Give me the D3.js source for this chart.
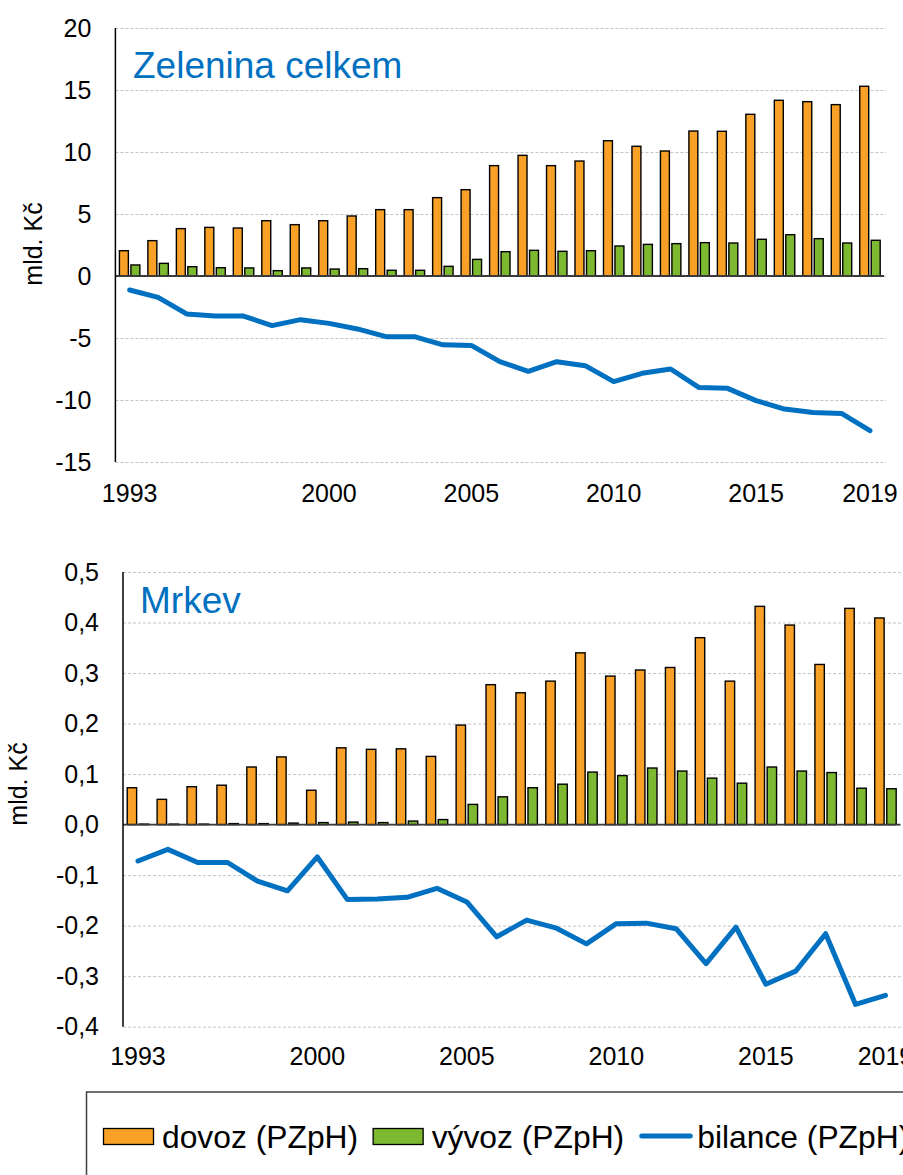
<!DOCTYPE html>
<html>
<head>
<meta charset="utf-8">
<script src="https://cdn.jsdelivr.net/npm/d3@7"></script>
<style>
    body { margin: 0; background: #fff; }
    svg { display: block; font-family: "Liberation Sans", Arial, sans-serif; }
</style>
</head>
<body>
<div id="chart"></div>
<script>

// ---- DATA (mld. Kč) ----
const zelYears = [1993, 1994, 1995, 1996, 1997, 1998, 1999, 2000, 2001, 2002, 2003, 2004, 2005, 2006,
    2007, 2008, 2009, 2010, 2011, 2012, 2013, 2014, 2015, 2016, 2017, 2018, 2019];
const zelDovoz = [2.04, 2.85, 3.82, 3.92, 3.87, 4.46, 4.14, 4.46, 4.84, 5.35, 5.35, 6.32, 6.96, 8.90,
    9.73, 8.90, 9.27, 10.91, 10.46, 10.08, 11.69, 11.67, 13.04, 14.17, 14.06, 13.82, 15.30];
const zelVyvoz = [0.89, 1.02, 0.75, 0.67, 0.65, 0.43, 0.65, 0.56, 0.59, 0.46, 0.46, 0.78, 1.34, 1.96,
    2.07, 1.99, 2.04, 2.42, 2.55, 2.61, 2.69, 2.66, 2.96, 3.33, 3.01, 2.66, 2.88];
const zelBilance = [-1.13, -1.72, -3.06, -3.23, -3.23, -4.00, -3.52, -3.82, -4.27, -4.89, -4.89, -5.55, -5.60, -6.91,
    -7.69, -6.91, -7.23, -8.52, -7.85, -7.50, -9.00, -9.06, -10.05, -10.73, -11.00, -11.08, -12.47];
const zelTicks = [-15, -10, -5, 0, 5, 10, 15, 20];

// carrot chart has 26 categories (one year less before 2000)
const mrkYears = [1993, 1995, 1996, 1997, 1998, 1999, 2000, 2001, 2002, 2003, 2004, 2005, 2006,
    2007, 2008, 2009, 2010, 2011, 2012, 2013, 2014, 2015, 2016, 2017, 2018, 2019];
const mrkDovoz = [0.073, 0.050, 0.075, 0.078, 0.114, 0.134, 0.068, 0.152, 0.149, 0.150, 0.135, 0.197, 0.277,
    0.261, 0.284, 0.340, 0.294, 0.306, 0.311, 0.370, 0.284, 0.432, 0.395, 0.317, 0.428, 0.409];
const mrkVyvoz = [0.001, 0.001, 0.001, 0.002, 0.002, 0.003, 0.004, 0.005, 0.004, 0.007, 0.010, 0.040, 0.055,
    0.073, 0.080, 0.104, 0.097, 0.112, 0.106, 0.092, 0.082, 0.114, 0.106, 0.103, 0.072, 0.071];
const mrkBilance = [-0.072, -0.049, -0.075, -0.075, -0.112, -0.131, -0.064, -0.148, -0.147, -0.144, -0.126, -0.153, -0.222,
    -0.189, -0.205, -0.236, -0.196, -0.195, -0.206, -0.275, -0.203, -0.316, -0.290, -0.216, -0.356, -0.338];
const mrkTicks = [-0.4, -0.3, -0.2, -0.1, 0, 0.1, 0.2, 0.3, 0.4, 0.5];

const shownYears = [1993, 2000, 2005, 2010, 2015, 2019];
const seriesNames = ["dovoz (PZpH)", "vývoz (PZpH)", "bilance (PZpH)"];

const colors = {dovoz: "#F9A126", vyvoz: "#7CB930", bilance: "#0070C0"};

const cz = d3.formatLocale({decimal: ",", thousands: " ", grouping: [3], currency: ["", " Kč"], minus: "-"});


class ComboChart {

    constructor(svg, opts, years, dovoz, vyvoz, bilance) {
        this.svg = svg;
        this.opts = opts;
        this.years = years;
        this.dovoz = dovoz;
        this.vyvoz = vyvoz;
        this.bilance = bilance;
        this.initVis();
    }

    initVis() {
        let vis = this;
        let o = vis.opts;

        vis.data = vis.years.map((y, i) => ({year: y, dovoz: vis.dovoz[i], vyvoz: vis.vyvoz[i], bilance: vis.bilance[i]}));

        vis.g = vis.svg.append("g");

        // scales
        vis.x = d3.scaleBand()
            .domain(vis.years)
            .range([o.left, o.right]);

        vis.x1 = d3.scaleBand()
            .domain(["dovoz", "vyvoz"])
            .range([0, vis.x.bandwidth()])
            .paddingInner(0.22)
            .paddingOuter(0.35);

        vis.y = d3.scaleLinear()
            .domain(o.yDomain)
            .range([o.bottom, o.top]);

        // gridlines
        vis.g.append("g")
            .attr("class", "grid")
            .attr("transform", "translate(" + o.left + ",0)")
            .call(d3.axisLeft(vis.y).tickValues(o.ticks).tickSize(-(o.gridRight - o.left)).tickFormat(""))
            .call(g => g.select(".domain").remove())
            .selectAll("line")
            .attr("stroke", "#c4c4c4")
            .attr("stroke-width", 1)
            .attr("stroke-dasharray", "3,2");

        // y tick labels
        vis.g.append("g")
            .attr("class", "y-axis")
            .attr("transform", "translate(" + o.left + ",0)")
            .call(d3.axisLeft(vis.y).tickValues(o.ticks).tickSize(0).tickPadding(24).tickFormat(cz.format(o.fmt)))
            .call(g => g.select(".domain").remove())
            .selectAll("text")
            .attr("font-size", 25)
            .attr("font-family", "Liberation Sans, Arial, sans-serif")
            .attr("fill", "#000");

        // x tick labels
        vis.g.append("g")
            .attr("class", "x-axis")
            .attr("transform", "translate(0," + o.bottom + ")")
            .call(d3.axisBottom(vis.x).tickValues(shownYears).tickSize(0).tickPadding(o.xPad))
            .call(g => g.select(".domain").remove())
            .selectAll("text")
            .attr("font-size", 25)
            .attr("font-family", "Liberation Sans, Arial, sans-serif")
            .attr("fill", "#000");

        // ---- BARS ----
        let groups = vis.g.selectAll(".year")
            .data(vis.data)
            .enter().append("g")
            .attr("class", "year")
            .attr("transform", d => "translate(" + vis.x(d.year) + ",0)");

        groups.selectAll("rect")
            .data(d => ["dovoz", "vyvoz"].map(k => ({key: k, value: d[k]})))
            .enter().append("rect")
            .attr("x", d => vis.x1(d.key))
            .attr("width", vis.x1.bandwidth())
            .attr("y", d => vis.y(Math.max(0, d.value)))
            .attr("height", d => Math.abs(vis.y(d.value) - vis.y(0)))
            .attr("fill", d => colors[d.key])
            .attr("stroke", "#000")
            .attr("stroke-width", 1.4);

        // zero line
        vis.g.append("line")
            .attr("x1", o.left).attr("x2", o.right)
            .attr("y1", vis.y(0)).attr("y2", vis.y(0))
            .attr("stroke", "#3a3a3a")
            .attr("stroke-width", 1.8);

        // left axis line
        vis.g.append("line")
            .attr("x1", o.left).attr("x2", o.left)
            .attr("y1", o.top).attr("y2", o.bottom)
            .attr("stroke", "#000")
            .attr("stroke-width", 1.5);

        // balance line
        let line = d3.line()
            .x(d => vis.x(d.year) + vis.x.bandwidth() / 2)
            .y(d => vis.y(d.bilance));

        vis.g.append("path")
            .datum(vis.data)
            .attr("d", line)
            .attr("fill", "none")
            .attr("stroke", colors.bilance)
            .attr("stroke-width", 5)
            .attr("stroke-linejoin", "round")
            .attr("stroke-linecap", "round");

        // title
        vis.g.append("text")
            .attr("x", o.titleX)
            .attr("y", o.titleY)
            .attr("font-size", 37)
            .attr("fill", colors.bilance)
            .text(o.title);

        // y label
        vis.g.append("text")
            .attr("transform", "translate(" + o.labelX + "," + o.labelY + ") rotate(-90)")
            .attr("text-anchor", "middle")
            .attr("font-size", 25)
            .attr("fill", "#000")
            .text("mld. Kč");
    }
}


let svg = d3.select("#chart").append("svg")
    .attr("width", 903)
    .attr("height", 1175);

svg.append("rect").attr("width", 903).attr("height", 1175).attr("fill", "#fff");

new ComboChart(svg, {
    left: 115.4, right: 884.2, gridRight: 886, top: 28, bottom: 462,
    yDomain: [-15, 20], ticks: zelTicks, fmt: "d", xPad: 22,
    title: "Zelenina celkem", titleX: 133, titleY: 78,
    labelX: 42, labelY: 244
}, zelYears, zelDovoz, zelVyvoz, zelBilance);

new ComboChart(svg, {
    left: 123, right: 900.4, gridRight: 903, top: 572, bottom: 1026.7,
    yDomain: [-0.4, 0.5], ticks: mrkTicks, fmt: ".1f", xPad: 21,
    title: "Mrkev", titleX: 140, titleY: 613,
    labelX: 27, labelY: 784
}, mrkYears, mrkDovoz, mrkVyvoz, mrkBilance);


// ---- LEGEND ----
let legend = svg.append("g").attr("class", "legend");

legend.append("rect")
    .attr("x", 86.5).attr("y", 1092)
    .attr("width", 900).attr("height", 200)
    .attr("fill", "#fff")
    .attr("stroke", "#404040")
    .attr("stroke-width", 1.5);

let lx = 103.5;
const keys = ["dovoz", "vyvoz", "bilance"];
keys.forEach((k, i) => {
    if (k === "bilance") {
        legend.append("line")
            .attr("x1", lx + 2.5).attr("x2", lx + 51)
            .attr("y1", 1136).attr("y2", 1136)
            .attr("stroke", colors.bilance)
            .attr("stroke-width", 5)
            .attr("stroke-linecap", "round");
        lx += 58;
    } else {
        legend.append("rect")
            .attr("x", lx).attr("y", 1128.5)
            .attr("width", 50).attr("height", 16)
            .attr("fill", colors[k])
            .attr("stroke", "#000")
            .attr("stroke-width", 1.3);
        lx += 58.5;
    }
    let t = legend.append("text")
        .attr("x", lx)
        .attr("y", 1147.5)
        .attr("font-size", 31.8)
        .attr("fill", "#000")
        .text(seriesNames[i]);
    lx += t.node().getComputedTextLength() + 15;
});

</script>
</body>
</html>
